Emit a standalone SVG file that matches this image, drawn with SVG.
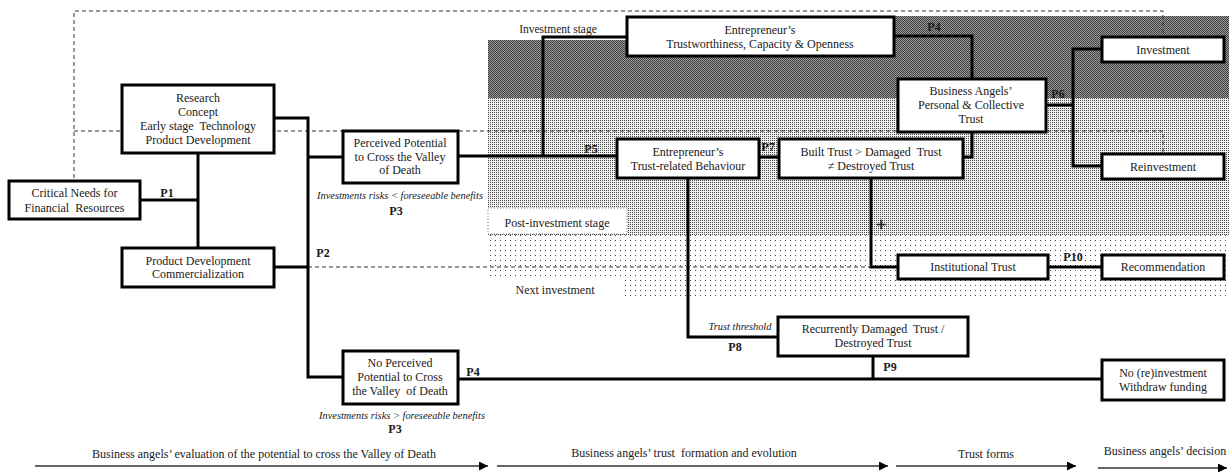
<svg xmlns="http://www.w3.org/2000/svg" width="1229" height="472" viewBox="0 0 1229 472">
<style>
text{font-family:"Liberation Serif","Times New Roman",serif;font-size:12px;fill:#1a1a1a;text-anchor:middle;white-space:pre}
.b{font-weight:bold}
.i{font-style:italic;font-size:10.4px}
.box{fill:#fff;stroke:#000;stroke-width:3}
.c{fill:none;stroke:#000;stroke-width:3}
.d{fill:none;stroke:#333;stroke-width:1;stroke-dasharray:4 3}
.ax{fill:none;stroke:#333;stroke-width:1.5}
</style>
<defs>
<pattern id="dark" patternUnits="userSpaceOnUse" x="0" y="0" width="2" height="2">
<rect width="2" height="2" fill="#9a9a9a"/><rect width="1" height="1" fill="#404040"/><rect x="1" y="1" width="1" height="1" fill="#404040"/>
</pattern>
<pattern id="dense" patternUnits="userSpaceOnUse" x="0" y="0" width="2" height="2">
<rect width="2" height="2" fill="#f0f0f0"/><rect width="1" height="1" fill="#4a4a4a"/>
</pattern>
<pattern id="sparse" patternUnits="userSpaceOnUse" x="0" y="0" width="5" height="5">
<rect width="5" height="5" fill="#fff"/><rect width="1" height="1" fill="#444"/>
</pattern>
<marker id="ah" viewBox="0 0 10 10" refX="10" refY="5" markerWidth="6" markerHeight="6" orient="auto" markerUnits="strokeWidth">
<path d="M0,0 L10,5 L0,10 z" fill="#000"/>
</marker>
</defs>
<rect width="1229" height="472" fill="#fff"/>
<g id="background">
<polygon points="488,40 627,40 627,16 1229,16 1229,98 488,98" fill="url(#dark)"/>
<rect x="488" y="98" width="741" height="137" fill="url(#dense)"/>
<rect x="488" y="235" width="741" height="63" fill="url(#sparse)"/>
<rect x="488" y="208" width="139" height="26" fill="#fff" stroke="#777" stroke-width="1" stroke-dasharray="1 2"/>
<rect x="488" y="278" width="135" height="21" fill="#fff"/>
</g>
<g id="dashed-frames">
<path class="d" d="M74,178 V11 H1163 V36"/>
<path class="d" d="M74,131 H1163 V153"/>
<path class="d" d="M308,267 H871"/>
</g>
<g id="connectors">
<path class="c" d="M140,200 H198"/>
<path class="c" d="M198,153 V248"/>
<path class="c" d="M274,118 H308 V377 H343"/>
<path class="c" d="M274,267 H308"/>
<path class="c" d="M308,157 H343"/>
<path class="c" d="M458,156 H617"/>
<path class="c" d="M543,156 V37 H627"/>
<path class="c" d="M894,36 H972 V79"/>
<path class="c" d="M963,157 H972 V132"/>
<path class="c" d="M759,157 H779"/>
<path class="c" d="M1046,105 H1073"/>
<path class="c" d="M1102,49 H1073 V166 H1102"/>
<path class="c" d="M871,178 V267 H898"/>
<path class="c" d="M1048,267 H1102"/>
<path class="c" d="M688,178 V337 H778"/>
<path class="c" d="M458,379 H1102"/>
<path class="c" d="M873,356 V379"/>
</g>
<g id="n-critical"><rect class="box" x="9" y="181" width="131" height="38"/><text x="74.5" y="197">Critical Needs for</text><text x="74.5" y="212">Financial  Resources</text></g>
<g id="n-research"><rect class="box" x="122" y="85" width="152" height="68"/><text x="198" y="102">Research</text><text x="198" y="116">Concept</text><text x="198" y="130">Early stage  Technology</text><text x="198" y="144">Product Development</text></g>
<g id="n-commercial"><rect class="box" x="122" y="248" width="152" height="39"/><text x="198" y="265">Product Development</text><text x="198" y="278">Commercialization</text></g>
<g id="n-perceived"><rect class="box" x="343" y="131" width="115" height="52"/><text x="400" y="147">Perceived Potential</text><text x="400" y="161">to Cross the Valley</text><text x="400" y="174">of Death</text></g>
<g id="n-noperceived"><rect class="box" x="343" y="351" width="115" height="53"/><text x="400" y="367">No Perceived</text><text x="400" y="381">Potential to Cross</text><text x="400" y="395">the Valley  of Death</text></g>
<g id="n-trustworthiness"><rect class="box" x="627" y="17" width="267" height="39"/><text x="760" y="34">Entrepreneur’s</text><text x="760" y="48">Trustworthiness, Capacity &amp; Openness</text></g>
<g id="n-behaviour"><rect class="box" x="617" y="139" width="142" height="39"/><text x="688" y="156">Entrepreneur’s</text><text x="688" y="170">Trust-related Behaviour</text></g>
<g id="n-built"><rect class="box" x="779" y="139" width="184" height="39"/><text x="871" y="156">Built Trust &gt; Damaged  Trust</text><text x="871" y="170">≠ Destroyed Trust</text></g>
<g id="n-angels"><rect class="box" x="898" y="79" width="148" height="53"/><text x="971" y="95">Business Angels’</text><text x="971" y="109">Personal &amp; Collective</text><text x="971" y="123">Trust</text></g>
<g id="n-investment"><rect class="box" x="1102" y="37" width="122" height="25"/><text x="1163" y="54">Investment</text></g>
<g id="n-reinvestment"><rect class="box" x="1102" y="154" width="122" height="25"/><text x="1163" y="171">Reinvestment</text></g>
<g id="n-institutional"><rect class="box" x="898" y="255" width="150" height="24"/><text x="973" y="271">Institutional Trust</text></g>
<g id="n-recommendation"><rect class="box" x="1102" y="255" width="122" height="24"/><text x="1163" y="271">Recommendation</text></g>
<g id="n-recurrent"><rect class="box" x="778" y="317" width="190" height="39"/><text x="873" y="333">Recurrently Damaged  Trust /</text><text x="873" y="347">Destroyed Trust</text></g>
<g id="n-noreinvest"><rect class="box" x="1102" y="360" width="122" height="40"/><text x="1163" y="377">No (re)investment</text><text x="1163" y="391">Withdraw funding</text></g>
<g id="labels">
<text x="558" y="33" style="font-size:11.5px">Investment stage</text>
<text x="557" y="227">Post-investment stage</text>
<text x="555" y="294">Next investment</text>
<text class="b" x="167" y="197">P1</text>
<text class="b" x="323" y="257">P2</text>
<text class="b" x="396" y="215">P3</text>
<text class="b" x="395" y="433">P3</text>
<text class="b" x="934" y="31">P4</text>
<text class="b" x="473" y="376">P4</text>
<text class="b" x="591" y="153">P5</text>
<text class="b" x="1058" y="98">P6</text>
<text class="b" x="768" y="151">P7</text>
<text class="b" x="735" y="351">P8</text>
<text class="b" x="890" y="371">P9</text>
<text class="b" x="1073" y="261">P10</text>
<text x="881" y="231" style="font-size:18px;stroke:#1a1a1a;stroke-width:0.6">+</text>
<text class="i" x="400" y="199">Investments risks &lt; foreseeable benefits</text>
<text class="i" x="402" y="419">Investments risks &gt; foreseeable benefits</text>
<text class="i" x="740" y="330">Trust threshold</text>
</g>
<g id="timeline">
<path class="ax" d="M35,466 H488" marker-end="url(#ah)"/>
<path class="ax" d="M497,466 H888" marker-end="url(#ah)"/>
<path class="ax" d="M896,466 H1076" marker-end="url(#ah)"/>
<path class="ax" d="M1098,468 H1227" marker-end="url(#ah)"/>
<text x="264" y="458">Business angels’ evaluation of the potential to cross the Valley of Death</text>
<text x="684" y="457">Business angels’ trust  formation and evolution</text>
<text x="986" y="458">Trust forms</text>
<text x="1165" y="455">Business angels’ decision</text>
</g>
</svg>
